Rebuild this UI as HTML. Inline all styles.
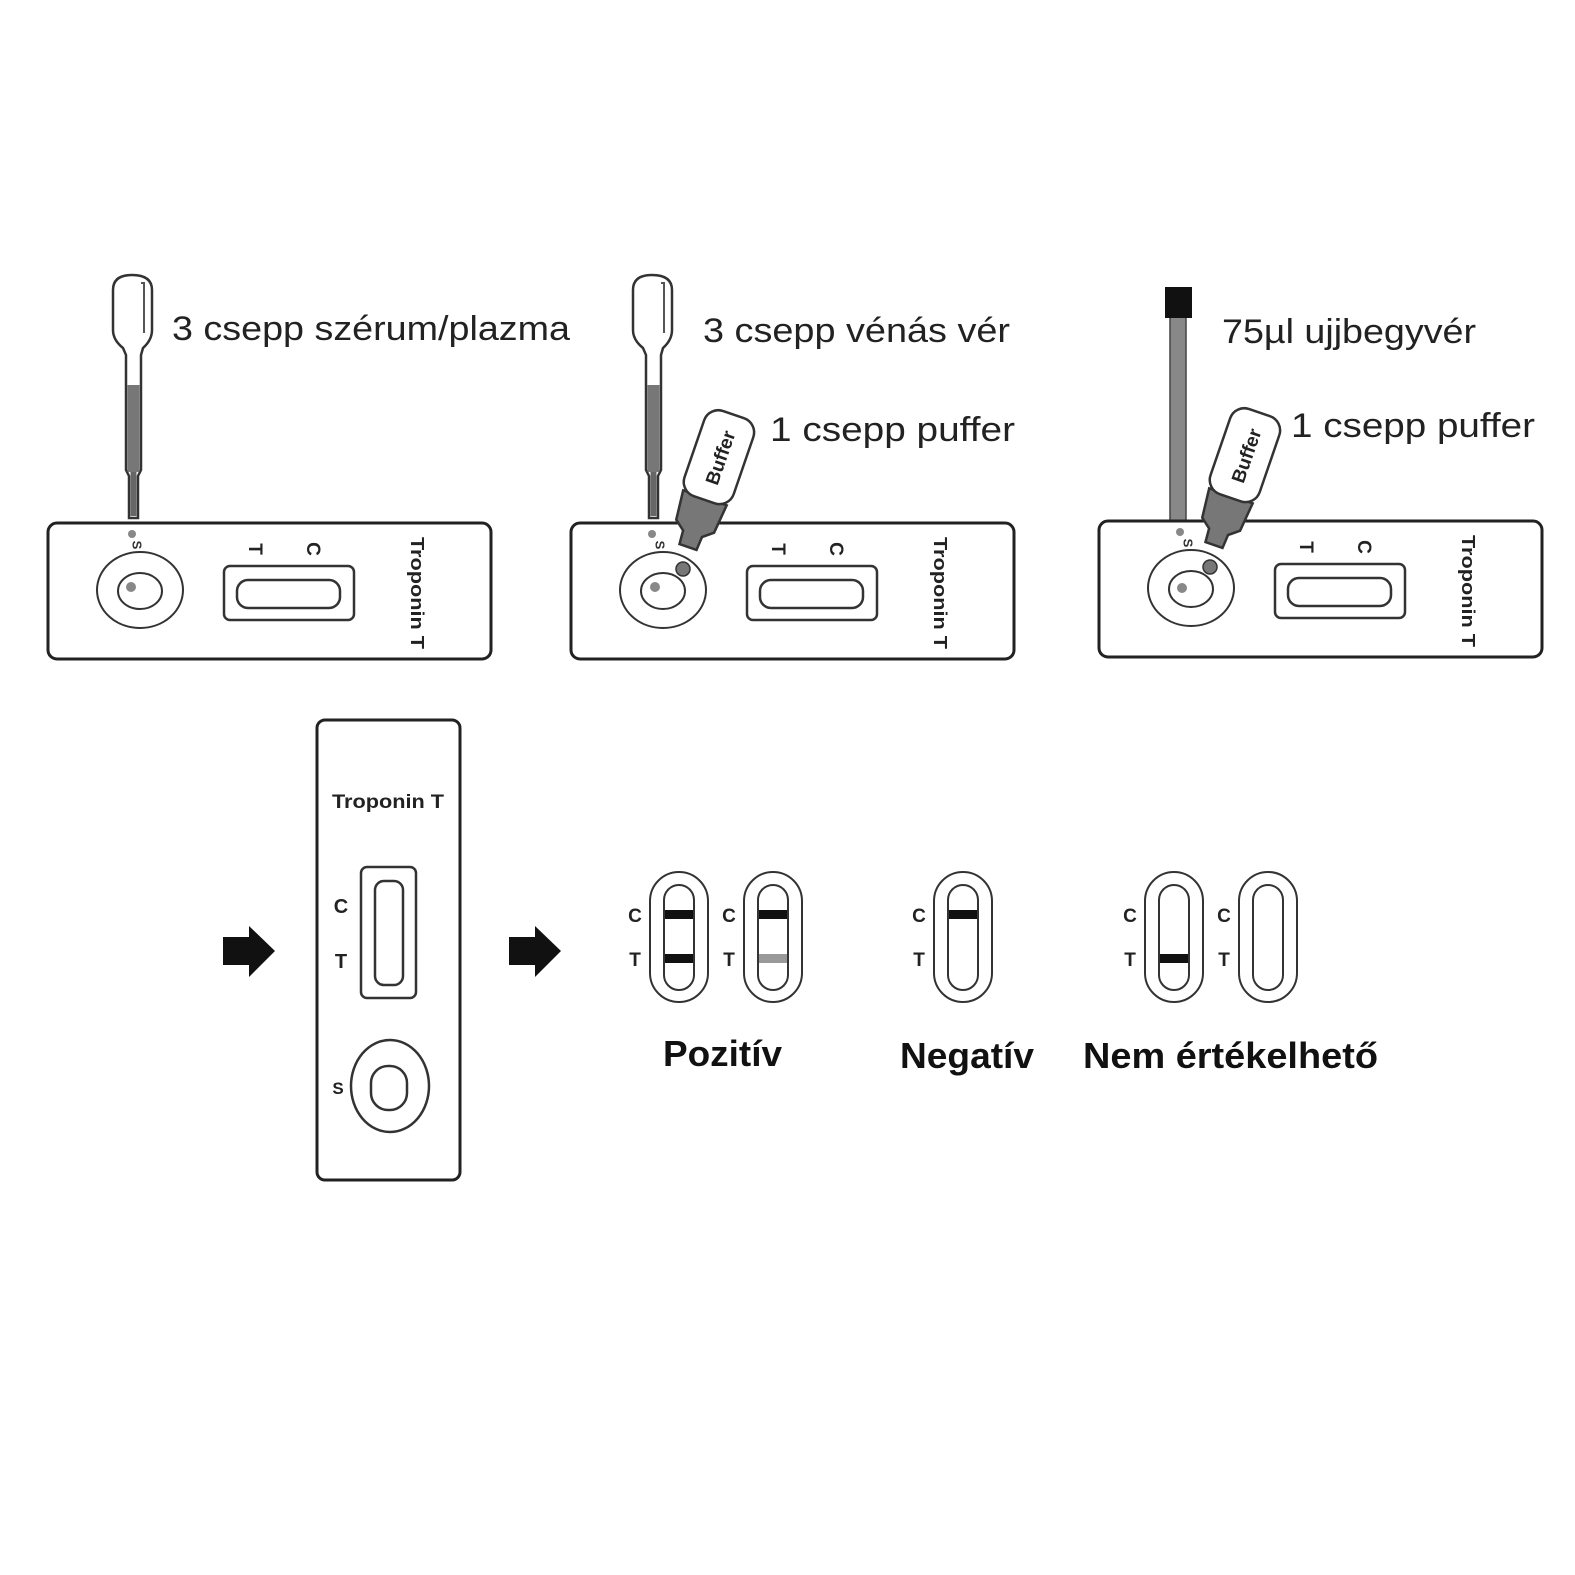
<!DOCTYPE html>
<html><head><meta charset="utf-8"><style>html,body{margin:0;padding:0;background:#fff}svg{display:block}</style></head>
<body>
<svg width="1575" height="1575" viewBox="0 0 1575 1575" xmlns="http://www.w3.org/2000/svg" font-family="Liberation Sans, sans-serif">
<defs>
<g id="card">
  <rect x="0" y="0" width="443" height="136" rx="9" fill="#fff" stroke="#222" stroke-width="3"/>
  <ellipse cx="92" cy="67" rx="43" ry="38" fill="none" stroke="#333" stroke-width="2"/>
  <ellipse cx="92" cy="68" rx="22" ry="18" fill="none" stroke="#333" stroke-width="2"/>
  <rect x="176" y="43" width="130" height="54" rx="6" fill="none" stroke="#333" stroke-width="2.5"/>
  <rect x="189" y="57" width="103" height="28" rx="11" fill="none" stroke="#333" stroke-width="2.5"/>
  <text transform="translate(206,26) rotate(90)" font-size="19" font-weight="bold" text-anchor="middle" dominant-baseline="middle" fill="#222">T</text>
  <text transform="translate(264,26) rotate(90)" font-size="19" font-weight="bold" text-anchor="middle" dominant-baseline="middle" fill="#222">C</text>
  <text transform="translate(363,70) rotate(90)" font-size="18" font-weight="bold" text-anchor="middle" fill="#222" textLength="112" lengthAdjust="spacingAndGlyphs">Troponin T</text>
  <text transform="translate(88,22) rotate(90)" font-size="13" font-weight="bold" text-anchor="middle" dominant-baseline="middle" fill="#333">S</text>
</g>
<g id="pipette">
  <path d="M113,290 Q113,275 132,275 Q152,275 152,290 L152,330 Q152,340 143,348 L141,355 L141,470 L138,476 L138,518 L129,518 L129,476 L126,470 L126,355 L123,348 Q113,340 113,330 Z" fill="#fff" stroke="#333" stroke-width="2.5"/>
  <path d="M141,283 L144,283 L144,333" fill="none" stroke="#555" stroke-width="2"/>
  <rect x="127.5" y="385" width="12" height="87" fill="#777"/>
  <rect x="130.5" y="472" width="6" height="44" fill="#666"/>
</g>
<g id="bottle">
  <path d="M-9,0 L9,0 L10,-14 L20,-22 L23,-52 L-23,-52 L-20,-22 L-10,-14 Z" fill="#777" stroke="#333" stroke-width="2.5"/>
  <rect x="-26" y="-140" width="52" height="90" rx="15" fill="#fff" stroke="#333" stroke-width="2.5"/>
  <text transform="translate(8,-95) rotate(-90)" font-size="19" font-weight="bold" text-anchor="middle" fill="#222">Buffer</text>
</g>
<g id="cap">
  <rect x="-29" y="0" width="58" height="130" rx="29" fill="#fff" stroke="#333" stroke-width="2"/>
  <rect x="-15" y="13" width="30" height="105" rx="15" fill="none" stroke="#333" stroke-width="2"/>
</g>
</defs>

<!-- Step 1 -->
<use href="#pipette"/>
<use href="#card" x="48" y="523"/>
<circle cx="132" cy="534" r="4" fill="#888"/>
<circle cx="131" cy="587" r="5" fill="#888"/>
<text x="172" y="340" font-size="34" fill="#222" textLength="398" lengthAdjust="spacingAndGlyphs">3 csepp szérum/plazma</text>

<!-- Step 2 -->
<use href="#pipette" x="520"/>
<use href="#card" x="571" y="523"/>
<circle cx="652" cy="534" r="4" fill="#888"/>
<circle cx="655" cy="587" r="5" fill="#888"/>
<circle cx="683" cy="569" r="7" fill="#777" stroke="#333" stroke-width="1.5"/>
<use href="#bottle" transform="translate(688,547) rotate(19)"/>
<text x="703" y="342" font-size="34" fill="#222" textLength="307" lengthAdjust="spacingAndGlyphs">3 csepp vénás vér</text>
<text x="770" y="441" font-size="34" fill="#222" textLength="245" lengthAdjust="spacingAndGlyphs">1 csepp puffer</text>

<!-- Step 3 -->
<rect x="1170" y="317" width="16" height="208" fill="#888" stroke="#444" stroke-width="1.5"/>
<rect x="1165" y="287" width="27" height="31" fill="#111"/>
<use href="#card" x="1099" y="521"/>
<circle cx="1180" cy="532" r="4" fill="#888"/>
<circle cx="1182" cy="588" r="5" fill="#888"/>
<circle cx="1210" cy="567" r="7" fill="#777" stroke="#333" stroke-width="1.5"/>
<use href="#bottle" transform="translate(1214,545) rotate(19)"/>
<text x="1222" y="343" font-size="34" fill="#222" textLength="254" lengthAdjust="spacingAndGlyphs">75µl ujjbegyvér</text>
<text x="1291" y="437" font-size="34" fill="#222" textLength="244" lengthAdjust="spacingAndGlyphs">1 csepp puffer</text>

<!-- arrows -->
<path d="M223,937 L249,937 L249,926 L275,951 L249,977 L249,965 L223,965 Z" fill="#111"/>
<path d="M509,937 L535,937 L535,926 L561,951 L535,977 L535,965 L509,965 Z" fill="#111"/>

<!-- vertical strip -->
<rect x="317" y="720" width="143" height="460" rx="8" fill="#fff" stroke="#222" stroke-width="3"/>
<text x="388" y="808" font-size="19" font-weight="bold" text-anchor="middle" fill="#222" textLength="112" lengthAdjust="spacingAndGlyphs">Troponin T</text>
<rect x="361" y="867" width="55" height="131" rx="6" fill="none" stroke="#333" stroke-width="2.5"/>
<rect x="375" y="881" width="28" height="104" rx="9" fill="none" stroke="#333" stroke-width="2.5"/>
<text x="341" y="913" font-size="20" font-weight="bold" text-anchor="middle" fill="#222">C</text>
<text x="341" y="968" font-size="20" font-weight="bold" text-anchor="middle" fill="#222">T</text>
<ellipse cx="390" cy="1086" rx="39" ry="46" fill="none" stroke="#333" stroke-width="2.5"/>
<rect x="371" y="1066" width="36" height="44" rx="17" fill="none" stroke="#333" stroke-width="2.5"/>
<text x="338" y="1094" font-size="17" font-weight="bold" text-anchor="middle" fill="#222">S</text>

<!-- results -->
<g font-size="19" font-weight="bold" fill="#222" text-anchor="middle">
<use href="#cap" x="679" y="872"/>
<rect x="665" y="910" width="28" height="9" fill="#111"/>
<rect x="665" y="954" width="28" height="9" fill="#111"/>
<text x="635" y="922">C</text><text x="635" y="966">T</text>
<use href="#cap" x="773" y="872"/>
<rect x="759" y="910" width="28" height="9" fill="#111"/>
<rect x="759" y="954" width="28" height="9" fill="#999"/>
<text x="729" y="922">C</text><text x="729" y="966">T</text>
<use href="#cap" x="963" y="872"/>
<rect x="949" y="910" width="28" height="9" fill="#111"/>
<text x="919" y="922">C</text><text x="919" y="966">T</text>
<use href="#cap" x="1174" y="872"/>
<rect x="1160" y="954" width="28" height="9" fill="#111"/>
<text x="1130" y="922">C</text><text x="1130" y="966">T</text>
<use href="#cap" x="1268" y="872"/>
<text x="1224" y="922">C</text><text x="1224" y="966">T</text>
</g>
<g font-size="36" font-weight="bold" fill="#111">
<text x="663" y="1066" textLength="119" lengthAdjust="spacingAndGlyphs">Pozitív</text>
<text x="900" y="1068" textLength="134" lengthAdjust="spacingAndGlyphs">Negatív</text>
<text x="1083" y="1068" textLength="295" lengthAdjust="spacingAndGlyphs">Nem értékelhető</text>
</g>
</svg>
</body></html>
